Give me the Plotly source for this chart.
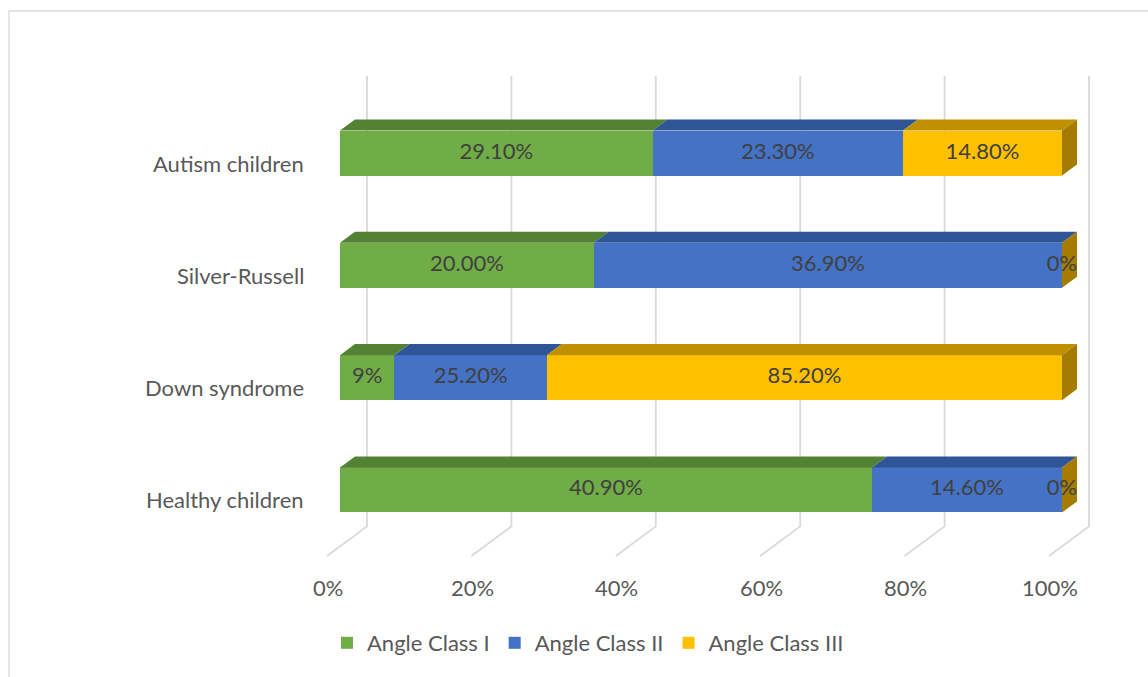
import plotly.graph_objects as go

# ---- data -------------------------------------------------------------
groups = ["Autism children", "Silver-Russell", "Down syndrome", "Healthy children"]
series_names = ["Angle Class I", "Angle Class II", "Angle Class III"]
class_1 = [29.1, 20.0, 9.0, 40.9]
class_2 = [23.3, 36.9, 25.2, 14.6]
class_3 = [14.8, 0.0, 85.2, 0.0]
label_1 = ["29.10%", "20.00%", "9%", "40.90%"]
label_2 = ["23.30%", "36.90%", "25.20%", "14.60%"]
label_3 = ["14.80%", "0%", "85.20%", "0%"]
x_ticks = [0, 20, 40, 60, 80, 100]
x_tick_text = ["0%", "20%", "40%", "60%", "80%", "100%"]

series = [class_1, class_2, class_3]
labels = [label_1, label_2, label_3]
front_colors = ["#70AD47", "#4472C4", "#FFC000"]
top_colors = ["#548235", "#2F5597", "#BF9000"]
side_colors = ["#44692B", "#26467E", "#A67C00"]

FONT = "Lato"

# ---- layout geometry (pixels) ----------------------------------------
W, H = 1148, 677
X0_PX, PX_PER_PCT = 340, 7.22        # 0% front edge, pixels per percent
Y0_PX, PX_PER_CAT = 153, 112.33      # first category centre, pixels per category
BAR_PX = 45                          # front face height
DEPTH_PX = 15                        # bar depth
SLOPE = 0.74                         # vertical rise per horizontal px of depth
WALL_S, FLOOR_FRONT_S = 27, -13      # depth of back wall / floor front edge
FLOOR_PX = 546.4                     # floor line in the bar front plane
WALL_TOP_PX = 96                     # wall top in the bar front plane

x_range = [-X0_PX / PX_PER_PCT, (W - X0_PX) / PX_PER_PCT]
y_range = [(H - Y0_PX) / PX_PER_CAT, -Y0_PX / PX_PER_CAT]
half_w = BAR_PX / PX_PER_CAT / 2
floor_y = (FLOOR_PX - Y0_PX) / PX_PER_CAT
wall_top_y = (WALL_TOP_PX - Y0_PX) / PX_PER_CAT


def proj(x, y, s):
    """Shift a point of the front plane back by depth s (in px)."""
    return x + s / PX_PER_PCT, y - s * SLOPE / PX_PER_CAT


# normalised (100 % stacked) extents of each segment
totals = [sum(v[k] for v in series) for k in range(len(groups))]
starts, ends = [], []
for j, vals in enumerate(series):
    st, en = [], []
    for k in range(len(groups)):
        a = sum(series[m][k] for m in range(j)) / totals[k] * 100
        b = a + vals[k] / totals[k] * 100
        st.append(a)
        en.append(b)
    starts.append(st)
    ends.append(en)

fig = go.Figure()
cat_pos = list(range(len(groups)))

# front faces
for j, vals in enumerate(series):
    fig.add_trace(go.Bar(
        y=cat_pos, x=vals, orientation="h", name=series_names[j],
        width=2 * half_w, marker=dict(color=front_colors[j], line=dict(width=0)),
        hoverinfo="skip", textposition="none",
    ))

# top faces
for j in range(len(series)):
    xs, ys = [], []
    for k in cat_pos:
        a, b = starts[j][k], ends[j][k]
        if b - a <= 0:
            continue
        top = k - half_w
        pts = [(a, top), (b, top), proj(b, top, DEPTH_PX), proj(a, top, DEPTH_PX), (a, top)]
        xs += [p[0] for p in pts] + [None]
        ys += [p[1] for p in pts] + [None]
    fig.add_trace(go.Scatter(x=xs, y=ys, mode="lines", fill="toself",
                             fillcolor=top_colors[j], line=dict(width=0),
                             hoverinfo="skip", showlegend=False))

# right side face of each stack (outermost series)
xs, ys = [], []
for k in cat_pos:
    e = ends[-1][k]
    top, bot = k - half_w, k + half_w
    pts = [(e, top), proj(e, top, DEPTH_PX), proj(e, bot, DEPTH_PX), (e, bot), (e, top)]
    xs += [p[0] for p in pts] + [None]
    ys += [p[1] for p in pts] + [None]
fig.add_trace(go.Scatter(x=xs, y=ys, mode="lines", fill="toself",
                         fillcolor=side_colors[-1], line=dict(width=0),
                         hoverinfo="skip", showlegend=False))

# data labels centred on each segment
for j in range(len(series)):
    fig.add_trace(go.Scatter(
        x=[(starts[j][k] + ends[j][k]) / 2 for k in cat_pos], y=cat_pos,
        mode="text", text=labels[j], textposition="middle center",
        textfont=dict(family=FONT, size=22, color="#404040"),
        hoverinfo="skip", showlegend=False))

# back-wall gridlines with floor returns
shapes = []
for t in x_ticks:
    tx, ty = proj(t, wall_top_y, WALL_S)
    bx, by = proj(t, floor_y, WALL_S)
    fx, fy = proj(t, floor_y, FLOOR_FRONT_S)
    shapes.append(dict(type="path", xref="x", yref="y", layer="below",
                       path=f"M{tx},{ty} L{bx},{by} L{fx},{fy}",
                       line=dict(color="#D9D9D9", width=1.8)))

# chart frame
shapes.append(dict(type="rect", xref="paper", yref="paper",
                   x0=9 / W, x1=1.02, y0=-0.02, y1=1 - 11 / H,
                   line=dict(color="#D9D9D9", width=1.3), layer="below"))

annotations = []
for t, txt in zip(x_ticks, x_tick_text):
    fx, fy = proj(t, floor_y, FLOOR_FRONT_S)
    annotations.append(dict(x=fx, y=fy, xref="x", yref="y", text=txt,
                            showarrow=False, xanchor="center", yanchor="middle",
                            yshift=-31, xshift=1,
                            font=dict(family=FONT, size=22, color="#595959")))
for k, g in zip(cat_pos, groups):
    annotations.append(dict(x=0, y=k, xref="x", yref="y", text=g,
                            showarrow=False, xanchor="right", yanchor="middle",
                            xshift=-34, yshift=-10,
                            font=dict(family=FONT, size=22, color="#595959")))

fig.update_layout(
    width=W, height=H, barmode="stack", barnorm="percent",
    margin=dict(l=0, r=0, t=0, b=0, pad=0),
    paper_bgcolor="white", plot_bgcolor="white",
    xaxis=dict(range=x_range, visible=False, fixedrange=True),
    yaxis=dict(range=y_range, visible=False, fixedrange=True),
    shapes=shapes, annotations=annotations,
    legend=dict(orientation="h", x=588 / W, xanchor="center",
                y=1 - 643 / H, yanchor="middle",
                font=dict(family=FONT, size=22, color="#595959"),
                itemclick=False, itemdoubleclick=False, traceorder="normal"),
    showlegend=True,
)

fig.write_html("out.html")
